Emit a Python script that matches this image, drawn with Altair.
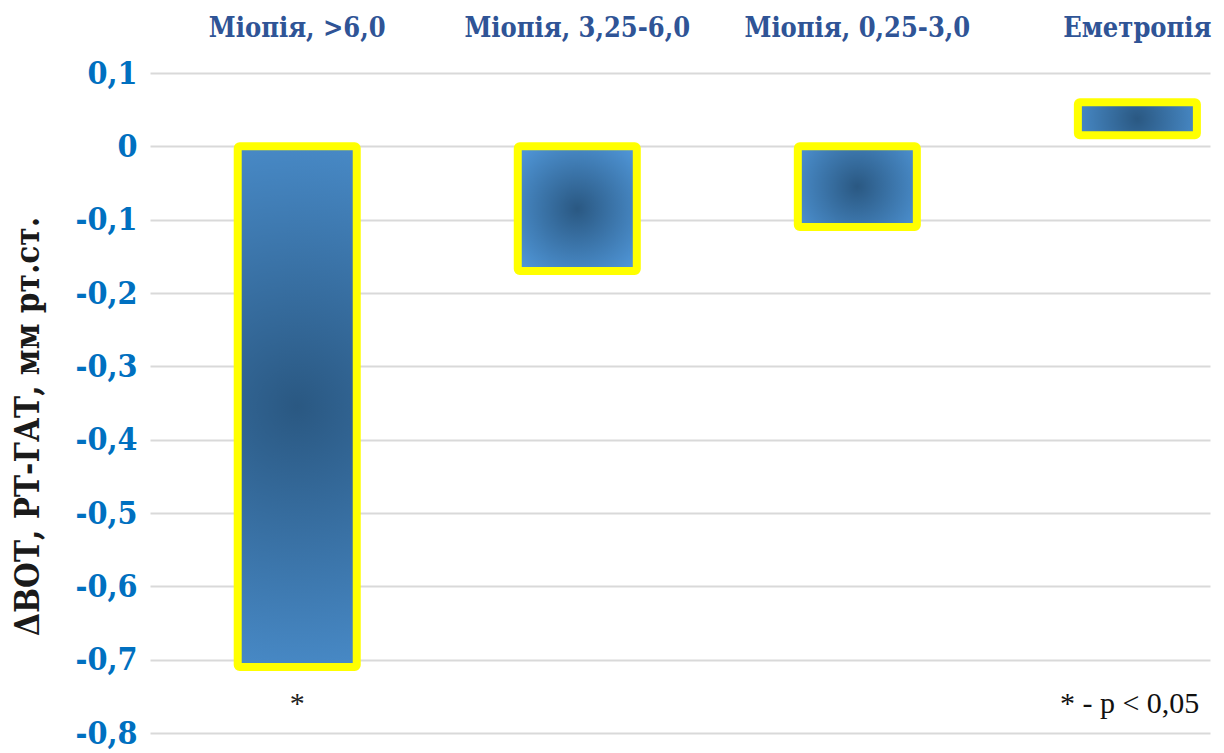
import altair as alt
import pandas as pd

categories = ["Міопія, >6,0", "Міопія, 3,25-6,0", "Міопія, 0,25-3,0", "Еметропія"]
bar_start = [0.0, 0.0, 0.0, 0.015]
bar_end = [-0.71, -0.17, -0.11, 0.06]
sig_marks = ["*", "", "", ""]
sig_level = -0.76
y_ticks = [0.1, 0.0, -0.1, -0.2, -0.3, -0.4, -0.5, -0.6, -0.7, -0.8]
note_text = "* - p < 0,05"
y_title = "ΔВОТ, РТ-ГАТ, мм рт.ст."

df = pd.DataFrame({"cat": categories, "start": bar_start, "end": bar_end,
                   "sig": sig_marks, "sig_y": [sig_level] * len(categories)})
note_df = pd.DataFrame({"cat": [categories[-1]], "y": [sig_level], "t": [note_text]})

SERIF = "'Liberation Serif', 'Times New Roman', serif"
BOLD_SERIF = "'DejaVu Serif Condensed', 'DejaVu Serif', serif"

x_enc = alt.X("cat:N", sort=categories,
              scale=alt.Scale(paddingInner=0.575, paddingOuter=0.18, align=0.87),
              axis=alt.Axis(orient="top", title=None, domain=False, ticks=False, grid=False,
                            labelAngle=0, labelFont=BOLD_SERIF, labelFontSize=27, labelFontWeight="bold",
                            labelColor="#2f5496", labelPadding=31, labelBaseline="bottom",
                            labelLimit=400, labelOverlap=False))

y_scale = alt.Scale(domain=[-0.8, 0.1], nice=False, zero=False)

gradient = alt.Gradient(
    gradient="radial",
    stops=[alt.GradientStop(offset=0, color="#2a5882"),
           alt.GradientStop(offset=1, color="#4e94d5")],
    x1=0.5, y1=0.5, r1=0, x2=0.5, y2=0.5, r2=0.62,
)

bars = alt.Chart(df).mark_bar(fill=gradient, stroke="#ffff00", strokeWidth=8, cornerRadius=2).encode(
    x=x_enc,
    y=alt.Y("start:Q", scale=y_scale,
            axis=alt.Axis(values=y_ticks, title=y_title, domain=False, ticks=False,
                          grid=True, gridColor="#d9d9d9", gridWidth=2,
                          labelExpr="datum.value == 0 ? '0' : replace(replace(format(datum.value, '.1f'), '.', ','), '\u2212', '-')",
                          labelFont=BOLD_SERIF, labelFontSize=32, labelFontWeight="bold",
                          labelColor="#0070c0", labelPadding=13,
                          titleFont=BOLD_SERIF, titleFontSize=33, titleFontWeight="bold",
                          titleColor="#1a1a1a", titleAngle=-90, titleX=-122, titleY=353,
                          titleAlign="center", titleBaseline="middle", titleLimit=600)),
    y2="end:Q",
)

sig = alt.Chart(df).mark_text(font=SERIF, fontSize=30, color="#222222", baseline="middle").encode(
    x=alt.X("cat:N", sort=categories),
    y=alt.Y("sig_y:Q", scale=y_scale),
    text="sig:N",
)

note = alt.Chart(note_df).mark_text(font=SERIF, fontSize=30, color="#111111", align="right",
                                    baseline="middle", dx=62).encode(
    x=alt.X("cat:N", sort=categories),
    y=alt.Y("y:Q", scale=y_scale),
    text="t:N",
)

chart = alt.layer(bars, sig, note).properties(
    width=1060, height=660,
    autosize=alt.AutoSizeParams(type="none"),
    padding={"left": 150, "top": 73, "right": 14, "bottom": 20},
    background="white",
).configure_view(stroke=None)

chart.save("out.html", embed_options={"renderer": "svg", "actions": False})
